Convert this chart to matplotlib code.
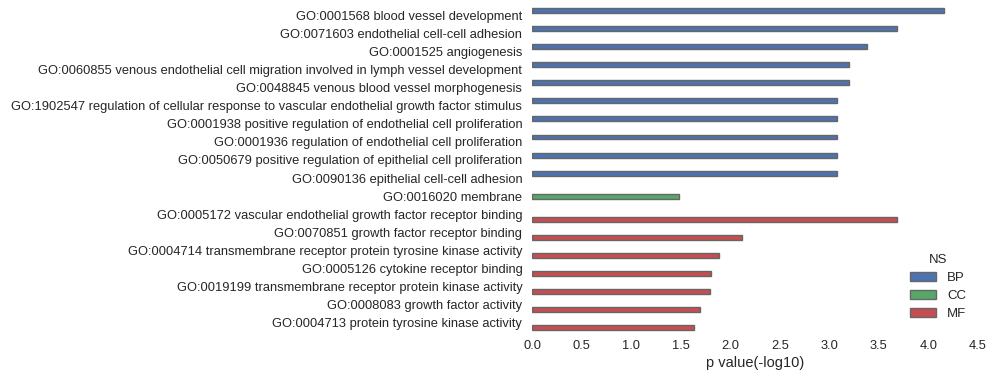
import matplotlib
matplotlib.use("Agg")
import matplotlib.pyplot as plt
import pandas as pd
import seaborn as sns

# GO terms, top to bottom
terms = [
    "GO:0001568 blood vessel development",
    "GO:0071603 endothelial cell-cell adhesion",
    "GO:0001525 angiogenesis",
    "GO:0060855 venous endothelial cell migration involved in lymph vessel development",
    "GO:0048845 venous blood vessel morphogenesis",
    "GO:1902547 regulation of cellular response to vascular endothelial growth factor stimulus",
    "GO:0001938 positive regulation of endothelial cell proliferation",
    "GO:0001936 regulation of endothelial cell proliferation",
    "GO:0050679 positive regulation of epithelial cell proliferation",
    "GO:0090136 epithelial cell-cell adhesion",
    "GO:0016020 membrane",
    "GO:0005172 vascular endothelial growth factor receptor binding",
    "GO:0070851 growth factor receptor binding",
    "GO:0004714 transmembrane receptor protein tyrosine kinase activity",
    "GO:0005126 cytokine receptor binding",
    "GO:0019199 transmembrane receptor protein kinase activity",
    "GO:0008083 growth factor activity",
    "GO:0004713 protein tyrosine kinase activity",
]
namespaces = ["BP"] * 10 + ["CC"] + ["MF"] * 7
pvals = [4.16, 3.68, 3.38, 3.20, 3.20, 3.08, 3.08, 3.08, 3.08, 3.08,
         1.48, 3.68, 2.12, 1.89, 1.81, 1.80, 1.70, 1.63]
hue_order = ["BP", "CC", "MF"]
colors = ["#4C72B0", "#55A868", "#C44E52"]

df = pd.DataFrame({"term": terms, "NS": namespaces, "p": pvals})

sns.set_style("white")
plt.rcParams["font.family"] = ["Liberation Sans", "DejaVu Sans"]
plt.rcParams["text.color"] = "#262626"
plt.rcParams["axes.labelcolor"] = "#262626"
plt.rcParams["xtick.color"] = "#262626"
plt.rcParams["ytick.color"] = "#262626"

fig, ax = plt.subplots(figsize=(9.95, 3.79), dpi=100)
fig.subplots_adjust(left=532 / 995, right=978 / 995, top=1 - 6 / 379, bottom=1 - 332 / 379)

sns.barplot(data=df, x="p", y="term", hue="NS", hue_order=hue_order,
            palette=colors, orient="h", dodge=True, order=terms,
            edgecolor="0.4", linewidth=1.0, saturation=1, ax=ax)

ax.set_xlim(0, 4.5)
ax.set_xticks([0, 0.5, 1.0, 1.5, 2.0, 2.5, 3.0, 3.5, 4.0, 4.5])
ax.set_xlabel("p value(-log10)", fontsize=10.5, labelpad=3)
ax.set_ylabel("")
ax.tick_params(axis="both", labelsize=9.3, length=0)
ax.tick_params(axis="y", pad=7)
ax.tick_params(axis="x", pad=6)
sns.despine(ax=ax, left=True, bottom=True)

leg = ax.legend(title="NS", loc="lower right", frameon=False, fontsize=9.5,
                title_fontsize=9.5, bbox_to_anchor=(1.0, 0.0), labelspacing=0.45)

fig.savefig("out.png", dpi=100)
